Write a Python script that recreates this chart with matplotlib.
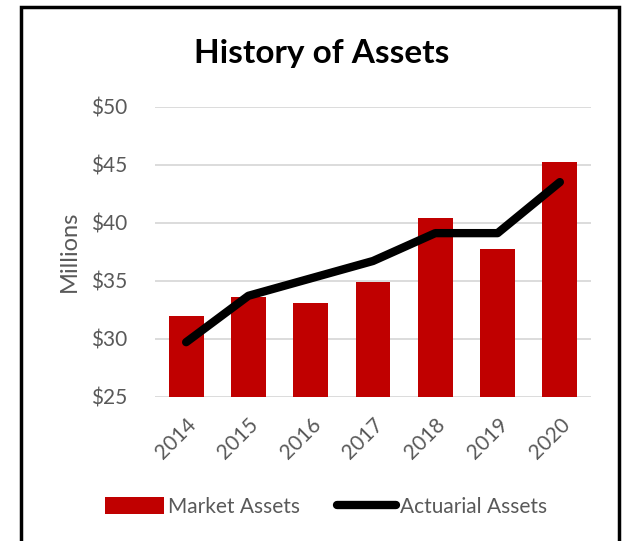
import matplotlib.pyplot as plt
from matplotlib.patches import Rectangle
from matplotlib.ticker import FuncFormatter

years = ['2014', '2015', '2016', '2017', '2018', '2019', '2020']
market_assets = [32.0, 33.6, 33.1, 34.9, 40.4, 37.7, 45.2]
actuarial_assets = [29.7, 33.7, 35.2, 36.7, 39.1, 39.1, 43.5]

plt.rcParams['font.family'] = ['Lato', 'DejaVu Sans']
grey = '#595959'

fig = plt.figure(figsize=(6.25, 5.41), dpi=100)
ax = fig.add_axes([0.248, 0.2667, 0.6976, 0.5361])

x = range(len(years))
bars = ax.bar(x, market_assets, width=0.56, color='#C00000', label='Market Assets', zorder=2)
line, = ax.plot(x, actuarial_assets, color='black', linewidth=6, solid_capstyle='round',
                solid_joinstyle='round', label='Actuarial Assets', zorder=3)

ax.set_xlim(-0.5, 6.5)
ax.set_ylim(25, 50)
ax.set_yticks([25, 30, 35, 40, 45, 50])
ax.yaxis.set_major_formatter(FuncFormatter(lambda v, p: '${:.0f}'.format(v)))
ax.grid(axis='y', color='#d9d9d9', linewidth=1.3, zorder=0)
ax.set_xticks(list(x))
ax.set_xticklabels(years, rotation=45, ha='right', va='top', rotation_mode='anchor')
for s in ax.spines.values():
    s.set_visible(False)
ax.tick_params(length=0, colors=grey, labelsize=15)
ax.tick_params(axis='y', pad=20)
ax.tick_params(axis='x', pad=13)
ax.set_ylabel('Millions', color=grey, fontsize=17, labelpad=8)

fig.text(0.515, 0.902, 'History of Assets', ha='center', va='center',
         fontsize=24, fontweight='bold')

fig.legend([bars, line], ['Market Assets', 'Actuarial Assets'],
           loc='center', bbox_to_anchor=(0.522, 0.063), ncol=2, frameon=False,
           fontsize=15, labelcolor=grey, handlelength=2.8, handletextpad=0.2,
           columnspacing=1.8, handleheight=0.9)

fig.patches.append(Rectangle((21 / 625, -0.05), 598 / 625, 1 - 7 / 541 + 0.05,
                             transform=fig.transFigure, fill=False,
                             edgecolor='black', linewidth=2.5))

fig.savefig('out.png', dpi=100)
